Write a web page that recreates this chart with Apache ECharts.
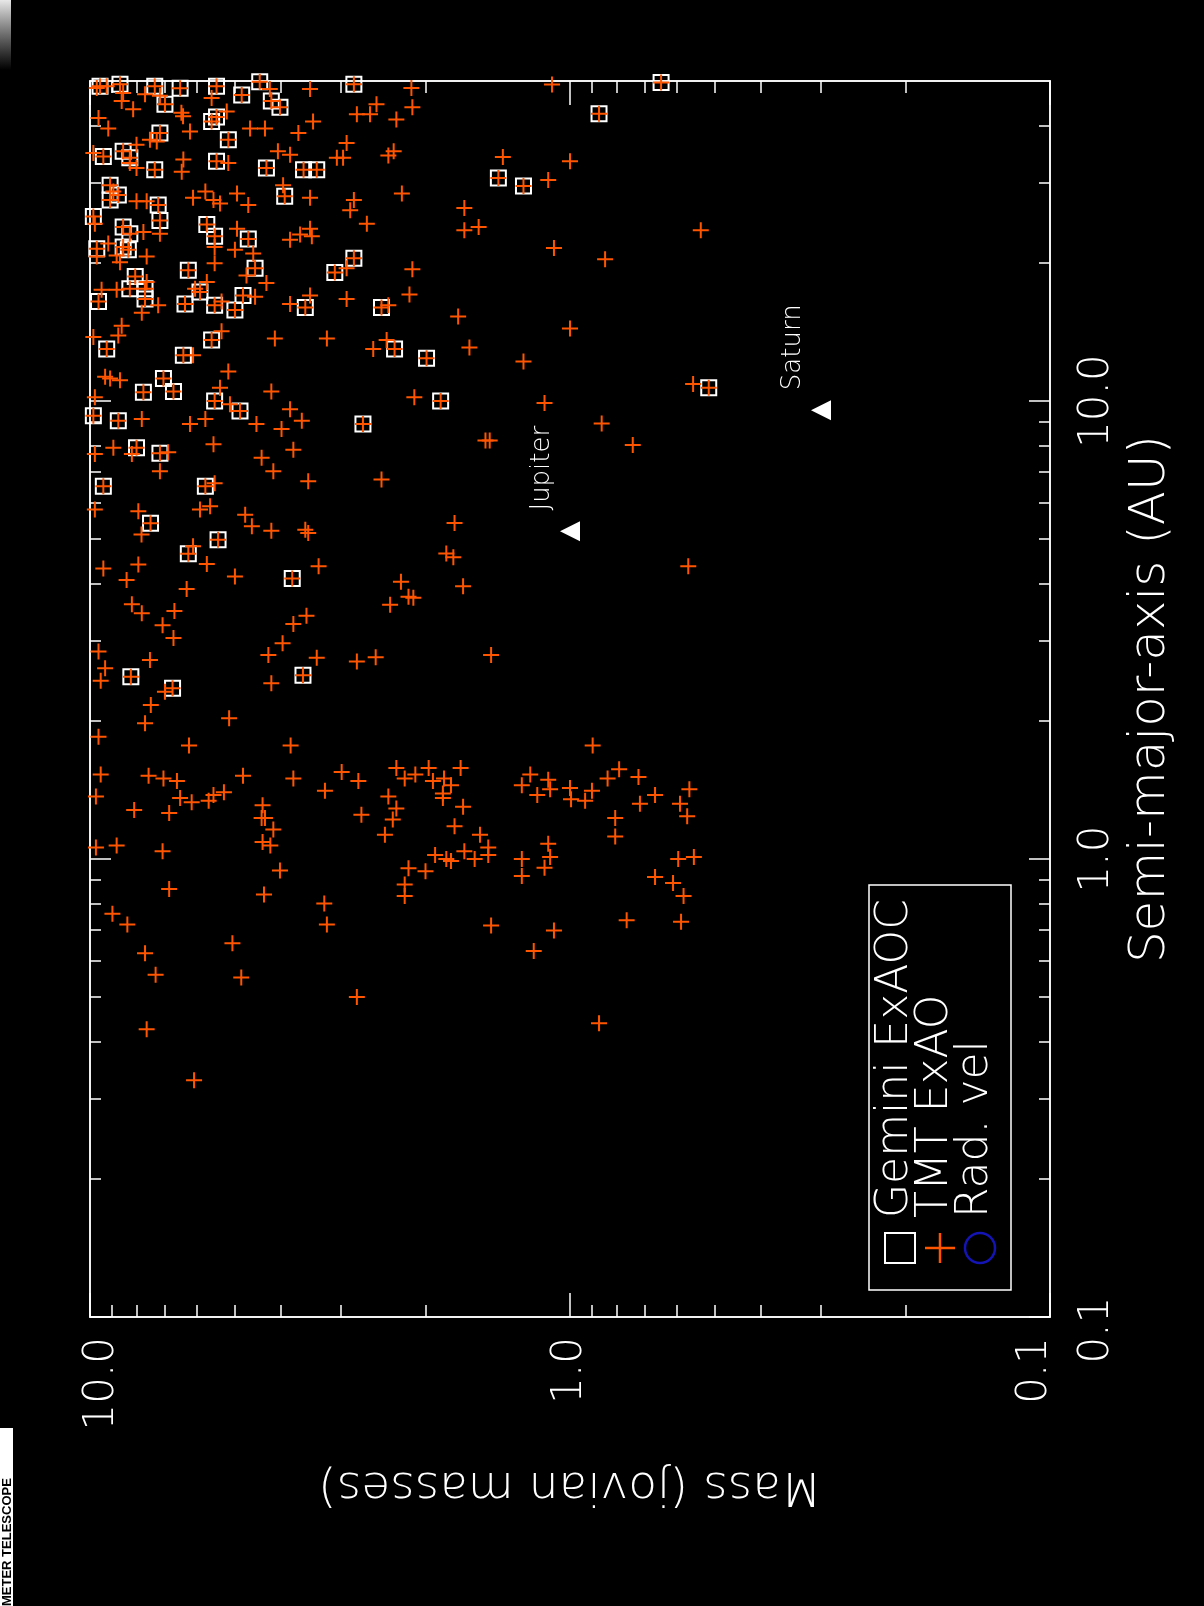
<!DOCTYPE html>
<html>
<head>
<meta charset="utf-8">
<script src="https://cdn.jsdelivr.net/npm/echarts@6/dist/echarts.min.js"></script>
<style>
html, body { margin: 0; padding: 0; background: #000; }
#chart { width: 1204px; height: 1606px; }
</style>
</head>
<body>
<div id="chart"></div>
<script>
// tick positions
const massLabelTicks = [0.1, 1, 10];
const massMinorTicks = [0.2, 0.3, 0.4, 0.5, 0.6, 0.7, 0.8, 0.9, 2, 3, 4, 5, 6, 7, 8, 9];
const smaLabelTicks = [0.1, 1, 10];
const smaMinorTicks = [0.2, 0.3, 0.4, 0.5, 0.6, 0.7, 0.8, 0.9, 2, 3, 4, 5, 6, 7, 8, 9, 20, 30, 40];

// [mass (M_jup), semi-major axis (AU)] -- TMT ExAO detections not seen by Gemini
const tmtOnly = [
  [9.68,48.3],[9.23,48.7],[8.53,47.1],[7.68,46.8],[7.15,46.4],[5.58,45.9],[4.22,48.0],[3.48,48.0],[8.59,45.2],[8.13,43.4],
  [6.45,42.6],[6.4,41.9],[9.6,41.5],[9.16,39.4],[5.19,42.9],[7.5,37.2],[6.19,38.8],[4.64,39.4],[4.32,39.4],[3.68,38.5],
  [3.43,40.8],[2.78,42.3],[2.61,42.3],[2.53,44.5],[2.30,41.2],[2.92,36.6],[2.33,35.1],[2.39,34.4],[3.06,34.0],[2.97,34.0],
  [4.06,35.1],[3.83,34.5],[8.0,36.3],[7.26,36.9],[9.84,34.8],[8.26,33.1],[8.0,32.3],[6.39,33.7],[6.44,31.7],[5.15,33.1],
  [8.94,28.7],[3.96,29.6],[3.48,27.8],[6.1,27.8],[5.75,28.7],[5.53,27.5],[5.36,27.0],[4.94,28.4],[4.68,26.8],[2.82,27.5],
  [2.87,26.1],[2.24,28.4],[8.0,27.3],[7.62,27.3],[7.15,23.2],[9.77,24.4],[7.74,23.4],[5.5,21.7],[4.94,23.8],[4.99,21.4],
  [4.57,21.0],[2.65,24.4],[3.83,22.5],[3.65,23.1],[3.48,23.8],[3.45,22.9],[9.68,20.7],[9.16,22.1],[8.8,20.8],[8.66,20.1],
  [7.62,20.7],[5.5,20.0],[4.72,18.8],[2.92,19.5],[7.62,18.2],[9.46,17.5],[8.8,17.5],[5.71,18.2],[6.04,17.6],[4.29,18.1],
  [7.8,15.6],[7.21,16.2],[4.53,16.9],[5.32,16.5],[3.48,17.0],[3.83,16.3],[2.92,16.7],[2.39,16.2],[8.59,14.6],[8.73,13.9],
  [9.84,13.8],[5.32,14.2],[6.1,12.6],[4.12,13.7],[3.21,13.7],[2.57,13.0],[2.41,13.6],[9.3,11.3],[9.08,11.2],[8.66,11.1],
  [9.77,10.2],[5.15,11.6],[5.36,10.7],[5.11,9.84],[4.19,10.5],[3.83,9.6],[3.62,9.06],[7.8,9.14],[6.19,8.91],[5.75,9.14],
  [4.5,8.91],[3.99,8.69],
  [2.14,48.3],[2.13,43.8],[1.09,49.1],[1.38,34.1],[1.0,33.4],[1.11,30.4],[1.66,26.4],[1.66,23.6],[1.55,24.0],[1.08,21.6],
  [0.845,20.4],[0.534,23.6],[2.13,19.4],[2.16,17.1],[1.71,15.3],[1.0,14.4],[1.62,13.1],[1.25,12.2],[0.554,10.9],[2.11,10.2],
  [1.13,9.9],[0.859,8.93],
  [8.94,7.91],[9.77,7.66],[8.18,7.66],[6.87,7.73],[7.15,7.03],[5.53,8.05],[4.39,7.52],[3.77,7.83],[4.15,7.03],[3.51,6.68],
  [2.47,6.74],[5.5,6.62],[9.77,5.80],[7.93,5.75],[5.9,5.80],[5.62,5.89],[4.75,5.65],[4.6,5.33],[4.19,5.21],[3.56,5.24],
  [3.51,5.15],[7.81,5.11],[6.1,4.82],[5.71,4.41],[9.38,4.31],[7.93,4.40],[8.39,4.07],[4.99,4.14],[3.34,4.36],[2.25,4.03],
  [6.29,3.89],[8.18,3.60],[7.8,3.44],[6.67,3.48],[7.06,3.24],[6.7,3.04],[3.77,3.26],[3.54,3.40],[2.37,3.59],[2.17,3.74],
  [3.97,2.96],[4.25,2.79],[3.37,2.75],[2.78,2.70],[2.54,2.76],[9.6,2.84],[9.3,2.61],[9.5,2.45],[6.98,2.32],[7.5,2.72],
  [4.19,2.42],[7.47,2.17],[7.68,1.98],[5.13,2.03],[9.6,1.85],[6.22,1.77],[3.82,1.77],[9.5,1.53],[7.55,1.52],[7.03,1.50],
  [6.59,1.48],[4.8,1.52],[3.77,1.50],[2.99,1.55],[2.76,1.48],[2.30,1.58],[2.21,1.50],
  [1.50,8.2],[1.47,8.2],[0.74,8.02],[1.74,5.42],[1.81,4.65],[1.75,4.56],[2.12,3.72],[1.67,3.94],[0.567,4.36],[1.46,2.79],
  [0.897,1.77],
  [3.24,1.41],[9.72,1.37],[6.49,1.36],[6.14,1.33],[5.66,1.34],[5.53,1.38],[5.26,1.40],[8.09,1.28],[6.84,1.26],[4.37,1.31],
  [4.39,1.23],[4.32,1.23],[4.15,1.16],[4.37,1.09],[4.21,1.07],[4.02,0.944],[4.34,0.837],[2.39,1.37],[2.30,1.29],[2.34,1.22],
  [2.43,1.13],[2.72,1.25],[9.72,1.06],[8.8,1.07],[7.06,1.04],[6.84,0.86],[2.17,0.955],[2.21,0.88],[2.21,0.83],[3.25,0.80],
  [3.21,0.72],[8.98,0.76],[8.36,0.72],[5.05,0.655],[7.68,0.623],[7.3,0.559],[4.84,0.551],[2.78,0.50],[7.62,0.425],[6.07,0.329],
  [1.97,1.58],[2.10,1.53],[1.93,1.48],[1.83,1.50],[1.77,1.45],[1.69,1.58],[1.84,1.39],[1.84,1.36],[1.67,1.30],[1.74,1.18],
  [1.54,1.13],[1.48,1.06],[1.66,1.04],[1.48,1.02],[1.58,1.0],[1.91,1.02],[1.81,1.0],[1.77,0.99],[2.0,0.94],[1.21,1.53],
  [1.26,1.45],[1.11,1.49],[1.10,1.42],[1.17,1.38],[1.0,1.43],[0.995,1.35],[0.93,1.34],[0.90,1.41],[0.835,1.50],[0.79,1.57],
  [0.72,1.51],[0.715,1.32],[0.665,1.38],[0.564,1.42],[0.59,1.32],[0.57,1.24],[0.805,1.23],[0.805,1.12],[1.11,1.08],[1.10,1.01],
  [1.13,0.957],[1.26,1.0],[1.26,0.918],[0.595,1.0],[0.552,1.01],[0.665,0.914],[0.61,0.887],[0.58,0.83],[0.762,0.735],[0.587,0.73],
  [1.46,0.716],[1.08,0.698],[1.19,0.63],[0.87,0.438]
];

// planets also detected by Gemini ExAOC (boxed, TMT detects them too)
const gemini = [
  [9.53,48.7],[8.66,49.2],[7.33,48.7],[6.49,48.2],[5.45,48.7],[4.83,46.6],[4.43,49.8],[4.19,45.2],[4.02,43.8],[2.82,49.2],
  [6.98,44.5],[5.58,40.8],[5.45,41.7],[7.15,38.5],[5.15,37.2],[9.38,34.2],[8.53,35.1],[8.26,34.0],[7.33,32.0],[5.45,33.4],
  [4.29,32.3],[3.59,32.0],[3.37,32.0],[9.08,29.6],[8.73,28.2],[9.08,27.5],[3.93,28.0],[7.21,26.8],[7.15,24.8],[9.84,25.3],
  [8.53,24.0],[8.26,23.2],[5.71,24.3],[5.5,22.9],[4.68,22.6],[9.68,21.5],[8.53,21.7],[8.32,21.4],[6.24,19.3],[4.53,19.5],
  [3.09,19.1],[2.82,20.5],[8.05,18.7],[7.68,17.6],[8.26,17.6],[5.9,17.3],[9.6,16.5],[7.68,16.7],[6.34,16.3],[5.5,16.2],
  [4.99,15.8],[4.80,17.0],[3.56,16.0],[2.47,16.0],[9.23,13.0],[5.58,13.6],[6.39,12.6],[2.32,13.0],[7.03,11.2],[6.7,10.5],
  [7.74,10.45],[5.5,10.0],[4.87,9.52],[9.84,9.29],[8.73,9.06],[2.7,8.91],
  [0.87,42.4],[0.646,49.6],[1.41,30.7],[1.25,29.5],[1.99,12.4],[0.514,10.7],[1.86,10.0],
  [8.0,7.91],[7.15,7.69],[9.38,6.52],[5.75,6.52],[7.48,5.41],[5.41,4.98],[6.24,4.64],[3.79,4.10],[8.22,2.50],[6.73,2.36],
  [3.6,2.52]
];

const planetNames = ['Jupiter', 'Saturn'];
const planetMass = [1.0, 0.3];
const planetSma = [5.2, 9.55];

const FONT = 'DejaVu Sans';
const WHITE = '#ffffff';
const ORANGE = '#ff5500';
const PLUS = 'path://M0,7H16V9H0Z M7,0H9V16H7Z';

function makeAxis(kind, pos, ticks, len) {
  return {
    type: 'log',
    logBase: 10,
    min: 0.1,
    max: kind === 'mass' ? 10 : 50,
    inverse: kind === 'mass',
    position: pos,
    axisLine: { show: true, onZero: false, lineStyle: { color: WHITE, width: 1.5 } },
    axisTick: { show: true, inside: true, length: len, customValues: ticks, lineStyle: { color: WHITE, width: 1.5 } },
    axisLabel: { show: false },
    splitLine: { show: false },
    minorTick: { show: false }
  };
}

const labelText = { color: WHITE, fontFamily: FONT, fontSize: 42, fontWeight: 200 };

// end labels sit a little inside the frame, as in the original plot
const xMain = makeAxis('mass', 'bottom', massLabelTicks, 24);
xMain.axisLabel = Object.assign({
  show: true, customValues: massLabelTicks, rotate: 90, margin: 20,
  formatter: v => {
    const s = Number(v).toFixed(1);
    if (v >= 10) return '{hi|' + s + '}';
    if (v <= 0.1) return '{lo|' + s + '}';
    return s;
  },
  rich: {
    hi: Object.assign({ padding: [24, 0, 0, 0] }, labelText),
    lo: Object.assign({ padding: [0, 0, 30, 0] }, labelText)
  }
}, labelText);
xMain.name = 'Mass (jovian masses)';
xMain.nameLocation = 'middle';
xMain.nameRotate = 180;
xMain.nameGap = 145;
xMain.nameTextStyle = { color: WHITE, fontFamily: FONT, fontSize: 47, fontWeight: 200 };

const yMain = makeAxis('sma', 'right', smaLabelTicks, 21);
yMain.axisLabel = Object.assign({
  show: true, customValues: smaLabelTicks, rotate: 90, margin: 26,
  formatter: v => {
    const s = Number(v).toFixed(1);
    return v <= 0.1 ? '{lo|' + s + '}' : s;
  },
  rich: {
    lo: Object.assign({ padding: [0, 26, 0, 0] }, labelText)
  }
}, labelText);
yMain.name = 'Semi-major-axis (AU)';
yMain.nameLocation = 'middle';
yMain.nameRotate = 90;
yMain.nameGap = 68;
yMain.nameTextStyle = { color: WHITE, fontFamily: FONT, fontSize: 50, fontWeight: 200 };

const chart = echarts.init(document.getElementById('chart'));

const legendFont = '200 44px "DejaVu Sans"';

const option = {
  backgroundColor: '#000',
  animation: false,
  grid: { left: 90, right: 154, top: 81, bottom: 289, containLabel: false },
  xAxis: [
    xMain,
    makeAxis('mass', 'bottom', massMinorTicks, 12),
    makeAxis('mass', 'top', massLabelTicks, 24),
    makeAxis('mass', 'top', massMinorTicks, 12)
  ],
  yAxis: [
    yMain,
    makeAxis('sma', 'right', smaMinorTicks, 11),
    makeAxis('sma', 'left', smaLabelTicks, 21),
    makeAxis('sma', 'left', smaMinorTicks, 11)
  ],
  series: [
    {
      name: 'Gemini ExAOC',
      type: 'scatter',
      xAxisIndex: 0, yAxisIndex: 0,
      symbol: 'rect',
      symbolSize: 15,
      itemStyle: { color: 'rgba(0,0,0,0)', borderColor: WHITE, borderWidth: 2, opacity: 1 },
      data: gemini,
      silent: true
    },
    {
      name: 'TMT ExAO',
      type: 'scatter',
      xAxisIndex: 0, yAxisIndex: 0,
      symbol: PLUS,
      symbolSize: 16,
      itemStyle: { color: ORANGE, opacity: 1 },
      data: tmtOnly.concat(gemini),
      silent: true
    },
    {
      name: 'Solar system',
      type: 'scatter',
      xAxisIndex: 0, yAxisIndex: 0,
      symbol: 'triangle',
      symbolRotate: 90,
      symbolSize: 20,
      itemStyle: { color: WHITE, opacity: 1 },
      label: {
        show: true,
        formatter: p => p.name,
        position: 'inside',
        rotate: 90,
        offset: [63, -28],
        align: 'center',
        verticalAlign: 'middle',
        color: WHITE,
        fontFamily: FONT,
        fontSize: 26,
        fontWeight: 200
      },
      data: planetNames.map((n, i) => ({ name: n, value: [planetMass[i], planetSma[i]] })),
      silent: true
    }
  ],
  graphic: [
    {
      type: 'rect', shape: { x: 869, y: 885, width: 142, height: 405 },
      style: { fill: 'none', stroke: WHITE, lineWidth: 1.5 }
    },
    {
      type: 'rect', shape: { x: 885, y: 1233, width: 30, height: 30 },
      style: { fill: 'none', stroke: WHITE, lineWidth: 2 }
    },
    { type: 'line', shape: { x1: 925, y1: 1248, x2: 955, y2: 1248 }, style: { stroke: ORANGE, lineWidth: 2.5 } },
    { type: 'line', shape: { x1: 940, y1: 1233, x2: 940, y2: 1263 }, style: { stroke: ORANGE, lineWidth: 2.5 } },
    { type: 'circle', shape: { cx: 980, cy: 1248, r: 15 }, style: { fill: 'none', stroke: '#1414b4', lineWidth: 2.5 } },
    {
      type: 'text', x: 896, y: 1218, rotation: Math.PI / 2,
      style: { text: 'Gemini ExAOC', font: legendFont, fill: WHITE, align: 'left', verticalAlign: 'middle' }
    },
    {
      type: 'text', x: 936, y: 1218, rotation: Math.PI / 2,
      style: { text: 'TMT ExAO', font: legendFont, fill: WHITE, align: 'left', verticalAlign: 'middle' }
    },
    {
      type: 'text', x: 976, y: 1218, rotation: Math.PI / 2,
      style: { text: 'Rad. vel', font: legendFont, fill: WHITE, align: 'left', verticalAlign: 'middle' }
    },
    // slide edge visible at the left of the picture
    {
      type: 'rect', shape: { x: 0, y: 0, width: 11, height: 70 },
      style: {
        fill: new echarts.graphic.LinearGradient(0, 0, 0, 1, [
          { offset: 0, color: '#e8e8e8' },
          { offset: 1, color: 'rgba(200,200,200,0)' }
        ])
      }
    },
    {
      type: 'rect', shape: { x: 0, y: 1428, width: 13, height: 178 },
      style: { fill: WHITE }
    },
    {
      type: 'text', x: 7, y: 1606, rotation: Math.PI / 2,
      style: { text: 'METER TELESCOPE', font: 'bold 13px "Liberation Sans"', fill: '#000', align: 'left', verticalAlign: 'middle' }
    }
  ]
};

chart.setOption(option);
window.addEventListener('resize', () => chart.resize());
</script>
</body>
</html>
